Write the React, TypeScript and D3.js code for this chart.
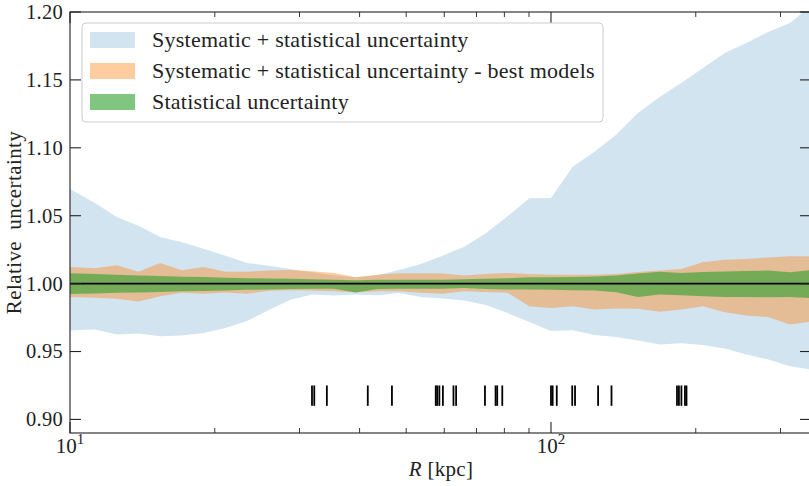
import React from 'react';
import * as d3 from 'd3';

// Galactocentric radius of each profile sample [kpc]
const radius = [10.0, 11.27, 12.51, 13.88, 15.4, 17.09, 18.96, 21.03, 23.34, 25.9, 28.73, 31.88, 35.37, 39.25, 43.55, 48.31, 53.61, 59.48, 66.0, 73.21, 81.23, 90.13, 100.0, 110.99, 123.1, 136.6, 151.6, 168.2, 186.6, 207.0, 229.8, 254.9, 282.8, 313.8, 347.2];

// Systematic + statistical envelope (all models)
const sysUpper = [1.0696, 1.0593, 1.049, 1.0426, 1.0343, 1.0304, 1.0257, 1.0206, 1.0152, 1.0132, 1.0108, 1.0083, 1.006, 1.0047, 1.0061, 1.0101, 1.0145, 1.0206, 1.0272, 1.0371, 1.0496, 1.0629, 1.063, 1.086, 1.0971, 1.1096, 1.1257, 1.1375, 1.1478, 1.1588, 1.1699, 1.1772, 1.1853, 1.1919, 1.2047];
const sysLower = [0.9654, 0.9662, 0.9625, 0.9632, 0.9613, 0.9618, 0.9637, 0.9674, 0.9725, 0.9805, 0.9882, 0.9919, 0.9912, 0.9919, 0.9914, 0.993, 0.9901, 0.989, 0.9875, 0.9842, 0.9783, 0.9717, 0.9651, 0.9657, 0.9621, 0.9607, 0.9581, 0.9551, 0.9561, 0.9548, 0.9522, 0.9478, 0.9441, 0.9392, 0.9368];

// Systematic + statistical envelope (best models only)
const bestUpper = [1.0123, 1.0114, 1.0136, 1.0088, 1.0151, 1.0099, 1.0123, 1.0088, 1.0088, 1.0096, 1.0101, 1.0091, 1.0079, 1.0046, 1.0066, 1.0076, 1.0077, 1.0074, 1.006, 1.007, 1.0079, 1.007, 1.0066, 1.0066, 1.0066, 1.0071, 1.0085, 1.0096, 1.0107, 1.0157, 1.0176, 1.0182, 1.0193, 1.0201, 1.0201];
const bestLower = [0.9902, 0.9895, 0.9888, 0.9868, 0.9907, 0.9932, 0.9926, 0.9934, 0.9926, 0.9947, 0.9951, 0.9949, 0.9943, 0.9936, 0.9943, 0.9943, 0.9932, 0.9926, 0.9943, 0.9939, 0.9932, 0.9833, 0.9821, 0.9833, 0.9809, 0.9816, 0.9814, 0.9792, 0.9809, 0.9833, 0.9789, 0.9765, 0.9755, 0.9699, 0.9721];

// Statistical-only envelope
const statUpper = [1.0076, 1.007, 1.0065, 1.006, 1.0056, 1.0051, 1.0048, 1.0044, 1.004, 1.0037, 1.0035, 1.0032, 1.0029, 1.0024, 1.0029, 1.0029, 1.0029, 1.0029, 1.0032, 1.0035, 1.004, 1.0046, 1.0046, 1.0049, 1.0053, 1.0059, 1.0074, 1.0088, 1.0079, 1.0086, 1.009, 1.0093, 1.0096, 1.0083, 1.0099];
const statLower = [0.9924, 0.9928, 0.9932, 0.9935, 0.9939, 0.9943, 0.9946, 0.995, 0.9954, 0.9957, 0.996, 0.9962, 0.9963, 0.9934, 0.9961, 0.9963, 0.9963, 0.9963, 0.9967, 0.9961, 0.9957, 0.9956, 0.9954, 0.9951, 0.9949, 0.9936, 0.9902, 0.9919, 0.9914, 0.9907, 0.9902, 0.9902, 0.9899, 0.9902, 0.9893];

// Radii of the tracer objects shown as a rug
const tracerRadius = [31.85, 32.2, 34.2, 41.6, 46.7, 57.6, 58.0, 58.6, 59.6, 62.7, 63.5, 72.9, 76.7, 77.3, 79.2, 100.0, 100.8, 102.8, 110.7, 112.2, 125.3, 133.6, 182.8, 184.5, 186.7, 189.9, 191.3];

const xMajor = [10, 100];
const xMinor = [20, 30, 40, 50, 60, 70, 80, 90, 200, 300];
const yTicks = [0.9, 0.95, 1.0, 1.05, 1.1, 1.15, 1.2];

const legendLabels = [
  'Systematic + statistical uncertainty',
  'Systematic + statistical uncertainty - best models',
  'Statistical uncertainty',
];

const BLUE = '#1f77b4';
const ORANGE = '#ff7f0e';
const GREEN = '#2ca02c';
const FONT = '"Liberation Serif", "DejaVu Serif", serif';

export default function App() {
  const left = 70, right = 811, top = 12, bottom = 433;
  const x = d3.scaleLog().domain([10, 347.2]).range([left, right]);
  const y = d3.scaleLinear().domain([0.89, 1.2]).range([bottom, top]);

  const band = (lo: number[], hi: number[]) =>
    d3.area<number>()
      .x((d) => x(d))
      .y0((_, i) => y(lo[i]))
      .y1((_, i) => y(hi[i]))(radius) as string;

  const majorLen = 11, minorLen = 5;
  const axisColor = '#222';

  const legendFills = [
    { color: BLUE, opacity: 0.2 },
    { color: ORANGE, opacity: 0.4 },
    { color: GREEN, opacity: 0.6 },
  ];
  const rowY = [40, 71, 102];

  return (
    <svg width={809} height={486} style={{ position: 'fixed', left: 0, top: 0, background: '#fff' }} fontFamily={FONT}>
      <defs>
        <clipPath id="plotArea">
          <rect x={left} y={top} width={right - left} height={bottom - top} />
        </clipPath>
      </defs>
      <rect x={0} y={0} width={809} height={486} fill="#fff" />
      <g clipPath="url(#plotArea)">
        <path d={band(sysLower, sysUpper)} fill={BLUE} fillOpacity={0.2} />
        <path d={band(bestLower, bestUpper)} fill={ORANGE} fillOpacity={0.4} />
        <path d={band(statLower, statUpper)} fill={GREEN} fillOpacity={0.6} />
        <line x1={left} x2={right} y1={y(1)} y2={y(1)} stroke="#000" strokeWidth={1.6} />
        {tracerRadius.map((r, i) => (
          <line key={i} x1={x(r)} x2={x(r)} y1={y(0.91)} y2={y(0.925)} stroke="#000" strokeWidth={1.8} />
        ))}
      </g>

      {/* frame */}
      <rect x={left} y={top} width={right - left} height={bottom - top} fill="none" stroke={axisColor} strokeWidth={1.1} />

      {/* x ticks, bottom and top, pointing inward */}
      {xMajor.map((t) => (
        <g key={'xM' + t}>
          <line x1={x(t)} x2={x(t)} y1={bottom} y2={bottom - majorLen} stroke={axisColor} strokeWidth={1.1} />
          <line x1={x(t)} x2={x(t)} y1={top} y2={top + majorLen} stroke={axisColor} strokeWidth={1.1} />
          <text x={x(t)} y={453} textAnchor="middle" fontSize={21} fill="#222">
            10<tspan fontSize={15} dy={-9}>{Math.round(Math.log10(t))}</tspan>
          </text>
        </g>
      ))}
      {xMinor.map((t) => (
        <g key={'xm' + t}>
          <line x1={x(t)} x2={x(t)} y1={bottom} y2={bottom - minorLen} stroke={axisColor} strokeWidth={0.9} />
          <line x1={x(t)} x2={x(t)} y1={top} y2={top + minorLen} stroke={axisColor} strokeWidth={0.9} />
        </g>
      ))}

      {/* y ticks, left and right, pointing inward */}
      {yTicks.map((t) => (
        <g key={'y' + t}>
          <line x1={left} x2={left + majorLen} y1={y(t)} y2={y(t)} stroke={axisColor} strokeWidth={1.1} />
          <line x1={right} x2={right - majorLen} y1={y(t)} y2={y(t)} stroke={axisColor} strokeWidth={1.1} />
          <text x={63} y={y(t)} dy="0.34em" textAnchor="end" fontSize={20.5} letterSpacing={0.3} fill="#222">
            {d3.format('.2f')(t)}
          </text>
        </g>
      ))}

      {/* axis titles */}
      <text x={441} y={476} textAnchor="middle" fontSize={21} letterSpacing={0.3} fill="#222">
        <tspan fontStyle="italic">R</tspan> [kpc]
      </text>
      <text transform={`translate(21, ${(top + bottom) / 2}) rotate(-90)`} textAnchor="middle" fontSize={21} letterSpacing={0.4} fill="#222" style={{ whiteSpace: 'pre' }}>
        {'Relative  uncertainty'}
      </text>

      {/* legend */}
      <g>
        <rect x={82} y={23} width={521} height={99} rx={4} fill="#fff" fillOpacity={0.8} stroke="#cccccc" strokeWidth={1} />
        {legendLabels.map((lab, i) => (
          <g key={lab}>
            <rect x={90} y={rowY[i] - 8} width={45} height={16} fill={legendFills[i].color} fillOpacity={legendFills[i].opacity} />
            <text x={152} y={rowY[i]} dy="0.33em" fontSize={22} letterSpacing={0.25} fill="#222">{lab}</text>
          </g>
        ))}
      </g>
    </svg>
  );
}
